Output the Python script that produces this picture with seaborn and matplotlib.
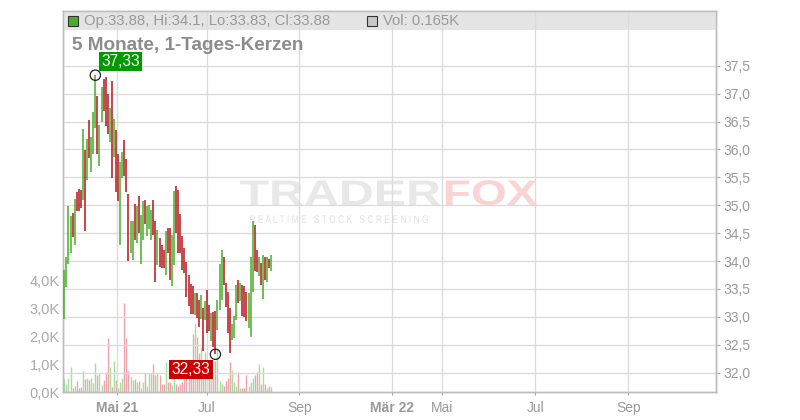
import numpy as np
import pandas as pd
import matplotlib.pyplot as plt
import matplotlib.patches as mpatches
from matplotlib.textpath import TextPath
from matplotlib.font_manager import FontProperties
from matplotlib.transforms import Affine2D, IdentityTransform
import seaborn as sns

# daily candles (high / low / direction)
highs = [33.84, 34.08, 34.99, 34.80, 34.87, 35.11, 35.23, 35.29, 35.28, 36.37,
         35.99, 36.19, 36.53, 36.22, 36.67, 37.33, 36.96, 36.43, 37.12, 37.26,
         37.30, 37.00, 36.74, 37.23, 36.54, 36.35, 35.91, 35.78, 35.96, 36.17,
         35.82, 35.21, 34.72, 34.71, 35.02, 34.99, 35.17, 34.83, 35.07, 35.10,
         34.99, 35.00, 34.92, 35.09, 34.72, 34.55, 34.41, 34.29, 34.20, 34.53,
         34.59, 34.59, 34.47, 35.26, 35.35, 35.27, 34.84, 34.45, 34.23, 33.99,
         33.75, 33.59, 33.56, 33.42, 33.42, 33.31, 33.40, 33.16, 33.29, 33.48,
         33.21, 33.07, 33.08, 33.10, 33.31, 33.95, 34.20, 34.08, 33.60, 33.45,
         33.16, 32.88, 33.02, 33.57, 33.66, 33.60, 33.57, 33.56, 33.44, 33.42,
         34.08, 34.71, 34.65, 34.20, 34.08, 33.96, 34.11, 34.07, 34.08, 34.03,
         34.10]
lows = [32.96, 33.54, 33.95, 34.14, 34.44, 34.28, 34.90, 34.89, 34.95, 35.10,
        34.53, 35.45, 35.85, 35.60, 35.92, 36.39, 35.92, 35.70, 36.50, 36.69,
        36.42, 36.28, 36.14, 35.48, 35.87, 35.24, 35.07, 34.28, 35.48, 35.53,
        35.23, 34.01, 34.14, 34.02, 34.38, 34.33, 34.50, 33.95, 34.37, 34.67,
        34.45, 34.58, 34.38, 34.46, 33.63, 33.93, 33.89, 33.87, 33.87, 33.75,
        34.15, 33.66, 33.56, 33.93, 34.51, 34.14, 34.15, 33.84, 33.78, 33.35,
        33.19, 33.06, 33.06, 33.04, 32.98, 32.82, 32.97, 32.38, 32.94, 32.71,
        32.74, 32.56, 32.46, 32.33, 32.77, 33.13, 33.31, 33.57, 33.18, 32.71,
        32.35, 32.59, 32.62, 32.95, 33.25, 33.28, 33.01, 32.99, 32.92, 32.80,
        32.64, 33.44, 33.83, 33.81, 33.74, 33.57, 33.32, 33.66, 33.62, 33.87,
        33.83]
direction = list("ggggrgrrrg" "rgrgggrggr" "rrgrgrrggr" "rrggrgrggr" "gggrrgrrrg"
                 "rrggrrrrrr" "rrrgrrgrgr" "rgrrgggrrr" "rgggrgrrrg" "ggrrgrgrgr" "g")
volume_k = [0.45, 0.30, 0.50, 0.88, 0.15, 0.20, 0.40, 0.13, 0.19, 0.75,
            0.45, 0.49, 0.43, 0.49, 0.31, 1.05, 0.60, 0.67, 0.25, 0.43,
            0.73, 1.92, 0.90, 0.19, 1.12, 0.43, 0.13, 0.37, 0.49, 3.19,
            1.94, 0.75, 0.55, 0.43, 0.46, 0.37, 0.39, 0.13, 0.37, 0.69,
            0.21, 0.67, 0.67, 0.99, 0.61, 0.67, 0.61, 0.29, 0.30, 1.08,
            0.35, 0.37, 0.25, 0.55, 0.30, 0.20, 0.30, 0.35, 0.45, 0.55,
            0.90, 0.80, 2.07, 2.45, 1.95, 1.40, 1.62, 0.70, 1.44, 0.35,
            0.60, 1.08, 0.50, 1.12, 1.52, 0.40, 0.30, 0.20, 0.40, 0.50,
            1.08, 0.79, 0.37, 0.20, 0.73, 0.15, 0.15, 0.13, 0.60, 0.20,
            0.37, 0.50, 0.60, 0.70, 1.00, 0.30, 0.90, 0.30, 0.13, 0.20,
            0.165]

last_ohlc = [33.88, 34.1, 33.83, 33.88]
last_vol = "0.165K"

price_ticks = [32.0, 32.5, 33.0, 33.5, 34.0, 34.5, 35.0, 35.5, 36.0, 36.5, 37.0, 37.5]
vol_ticks = [0, 1, 2, 3, 4]
x_tick_pos = [25.6, 68.8, 113.5, 158.5, 182.6, 227.5, 272.5]
x_tick_labels = ["Mai 21", "Jul", "Sep", "Mär 22", "Mai", "Jul", "Sep"]

df = pd.DataFrame({"high": highs, "low": lows, "dir": direction, "vol": volume_k})
df["idx"] = np.arange(len(df))

GREEN, RED = "#48ae26", "#b8141c"
VGREEN, VRED = "#a8dc9e", "#eca4ad"
TXT = "#999999"

sns.set_theme(style="white")
plt.rcParams["font.family"] = ["Liberation Sans", "DejaVu Sans"]

W, H = 800, 420
fig = plt.figure(figsize=(8, 4.2), dpi=100, facecolor="white")
L, R, T, B = 63, 716, 11, 392
ax = fig.add_axes([L / W, 1 - B / H, (R - L) / W, (B - T) / H])
axv = ax.twinx()
axv.set_zorder(ax.get_zorder() - 1)
ax.patch.set_visible(False)
axv.patch.set_visible(False)

# watermark
def stretched_text(s, x0, x1, base, cap, color, weight="bold"):
    tp = TextPath((0, 0), s, size=1, prop=FontProperties(family="Liberation Sans", weight=weight))
    ext = tp.get_extents()
    sx = (x1 - x0) / ext.width
    sy = cap / 0.729
    tr = Affine2D().translate(-ext.x0, 0).scale(sx, sy).translate(x0, H - base)
    p = mpatches.PathPatch(tr.transform_path(tp), facecolor=color, edgecolor="none",
                           transform=IdentityTransform(), zorder=-1)
    fig.add_artist(p)

stretched_text("TRADER", 240, 440, 205, 26, "#e8e8e8")
stretched_text("FOX", 446, 537, 205, 26, "#fad4d4")
stretched_text("R E A L T I M E   S T O C K   S C R E E N I N G", 250, 428, 223, 8, "#e0e0e0", weight="normal")

# volume
vcols = [VGREEN if d == "g" else VRED for d in df["dir"]]
axv.vlines(df["idx"], 0, df["vol"], colors=vcols, linewidth=1.0)
axv.set_ylim(0, (B - T) / 28)
axv.set_yticks(vol_ticks)
axv.set_yticklabels([f"{v:.1f}K".replace(".", ",") for v in vol_ticks])
axv.yaxis.tick_left()
axv.tick_params(axis="y", length=0, pad=2.5, labelsize=10.5, labelcolor="#aaaaaa")
axv.grid(False)

# candles
ccols = [GREEN if d == "g" else RED for d in df["dir"]]
ax.vlines(df["idx"], df["low"], df["high"], colors=ccols, linewidth=1.1, zorder=3)

ymin = 32.0 - (B - 372.7) / 55.8
ymax = 37.5 + (65.7 - T) / 55.8
ax.set_ylim(ymin, ymax)
xmin = (L - 64.3) / 2.07
xmax = (R - 64.3) / 2.07
ax.set_xlim(xmin, xmax)
axv.set_xlim(xmin, xmax)

ax.set_yticks(price_ticks)
ax.set_yticklabels([f"{v:.1f}".replace(".", ",") for v in price_ticks])
ax.yaxis.tick_right()
ax.tick_params(axis="y", right=True, length=3, width=0.8, color="#aaaaaa", pad=2,
               labelsize=10, labelcolor=TXT)
ax.set_xticks(x_tick_pos)
ax.set_xticklabels(x_tick_labels)
ax.tick_params(axis="x", bottom=True, length=2.5, width=0.8, color="#aaaaaa", pad=4,
               labelsize=10, labelcolor=TXT)
for lab in ax.get_xticklabels():
    if lab.get_text() in ("Mai 21", "Mär 22"):
        lab.set_fontweight("bold")

ax.set_axisbelow(True)
ax.grid(True, color="#dcdcdc", linewidth=1.0)
for a in (ax, axv):
    for s in a.spines.values():
        s.set_color("#bcbcbc")
        s.set_linewidth(1.0)

# header band
band = mpatches.Rectangle((0, (B - 30) / (B - T)), 1, (30 - T) / (B - T),
                          transform=ax.transAxes, facecolor="#e4e4e4", edgecolor="none", zorder=0.2)
ax.add_patch(band)

def fx(px):
    return px / W

def fy(py):
    return 1 - py / H

fig.add_artist(mpatches.Rectangle((fx(68), fy(26)), 10 / W, 10 / H, transform=fig.transFigure,
                                  facecolor=GREEN, edgecolor="#333333", linewidth=0.8))
fig.text(fx(84), fy(21), "Op:{}, Hi:{}, Lo:{}, Cl:{}".format(*last_ohlc),
         va="center", ha="left", fontsize=10.7, color=TXT)
fig.add_artist(mpatches.Rectangle((fx(367), fy(26)), 10 / W, 10 / H, transform=fig.transFigure,
                                  facecolor="#c8c8c8", edgecolor="#333333", linewidth=0.8))
fig.text(fx(383), fy(21), f"Vol: {last_vol}", va="center", ha="left", fontsize=10.7, color=TXT)

fig.text(fx(72), fy(46), "5 Monate, 1-Tages-Kerzen", va="center", ha="left",
         fontsize=13.6, fontweight="bold", color="#8c8c8c")

# extremes
i_hi = int(df["high"].idxmax())
i_lo = int(df["low"].idxmin())
ext = pd.DataFrame({"x": [i_hi, i_lo], "y": [df["high"][i_hi], df["low"][i_lo]]})
sns.scatterplot(data=ext, x="x", y="y", ax=ax, s=55, facecolor="none",
                edgecolor="#222222", linewidth=0.9, zorder=5, legend=False)
ax.set_xlabel("")
ax.set_ylabel("")
ax.annotate(f"{df['high'][i_hi]:.2f}".replace(".", ","), (i_hi, df["high"][i_hi]),
            xytext=(6, 6), textcoords="offset pixels", ha="left", va="bottom",
            color="white", fontsize=11.2, zorder=6,
            bbox=dict(boxstyle="square,pad=0.14", facecolor="#009a00", edgecolor="none"))
ax.annotate(f"{df['low'][i_lo]:.2f}".replace(".", ","), (i_lo, df["low"][i_lo]),
            xytext=(-5, -8), textcoords="offset pixels", ha="right", va="top",
            color="white", fontsize=11.2, zorder=6,
            bbox=dict(boxstyle="square,pad=0.14", facecolor="#cc0000", edgecolor="none"))

fig.savefig("out.png", dpi=100, facecolor="white")
